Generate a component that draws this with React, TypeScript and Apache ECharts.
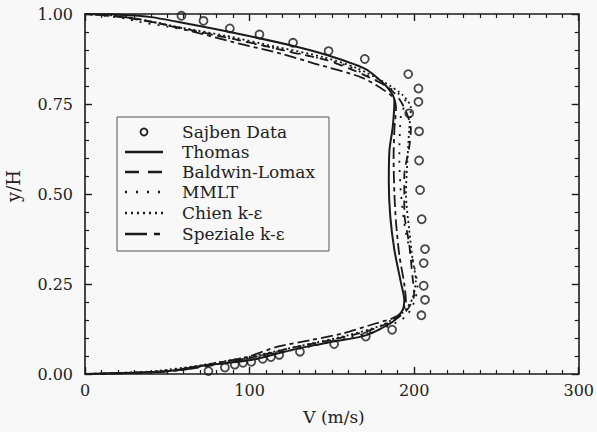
import React, { useEffect, useRef } from "react";
import * as echarts from "echarts";

const xTicks = [0, 100, 200, 300];
const yTicks = [0, 0.25, 0.5, 0.75, 1.0];

const legendNames = ["Sajben Data", "Thomas", "Baldwin-Lomax", "MMLT", "Chien k-ε", "Speziale k-ε"];

const sajbenData = [
  [58.6, 0.995], [72, 0.981], [88, 0.96], [106, 0.943], [126.4, 0.92], [148, 0.897], [170, 0.875],
  [196.4, 0.833], [202.6, 0.793], [202.6, 0.756], [197, 0.724], [203, 0.674], [203, 0.593],
  [203.6, 0.511], [204.6, 0.43], [206.6, 0.347], [205.8, 0.308], [205.8, 0.245], [206.6, 0.206],
  [204.4, 0.163], [186.6, 0.123], [170.6, 0.104], [151.4, 0.083], [130.6, 0.062], [118, 0.053],
  [113, 0.047], [108, 0.042], [101, 0.034], [96, 0.031], [91, 0.026], [85, 0.018], [75, 0.008],
];

const thomasData = [
  [0, 0], [20, 0.003], [49, 0.007], [73, 0.024], [101, 0.039], [117, 0.057], [135, 0.076],
  [151, 0.09], [171, 0.108], [187, 0.145], [193, 0.178], [194, 0.206], [192, 0.253], [188, 0.344],
  [185.5, 0.437], [184.6, 0.531], [185, 0.622], [187, 0.687], [188, 0.76], [183, 0.8], [170, 0.848],
  [147, 0.886], [126, 0.912], [88, 0.95], [60, 0.975], [39, 0.992], [15, 0.999], [0, 1.0],
];

const baldwinData = [
  [0, 0], [30, 0.003], [60, 0.012], [85, 0.03], [105, 0.05], [125, 0.072], [150, 0.095],
  [172, 0.12], [188, 0.15], [196, 0.18], [200, 0.22], [199, 0.27], [197, 0.36], [194, 0.45],
  [194, 0.55], [197, 0.63], [198, 0.68], [195, 0.73], [190, 0.77], [183, 0.8], [165, 0.84],
  [147, 0.872], [129, 0.89], [101, 0.92], [70, 0.95], [40, 0.978], [15, 0.996], [0, 1.0],
];

const mmltData = [
  [0, 0], [40, 0.006], [70, 0.022], [100, 0.045], [130, 0.07], [160, 0.1], [183, 0.13],
  [195, 0.16], [200, 0.2], [202, 0.24], [200, 0.3], [195, 0.39], [192, 0.5], [191, 0.6],
  [192, 0.72], [195, 0.755], [190, 0.78], [179, 0.81], [160, 0.855], [140, 0.88], [110, 0.91],
  [80, 0.94], [50, 0.965], [33, 0.978], [25, 0.987], [12, 0.995], [0, 1.0],
];

const chienData = [
  [0, 0], [40, 0.007], [70, 0.024], [100, 0.048], [130, 0.077], [160, 0.108], [180, 0.135],
  [193, 0.17], [199, 0.21], [201, 0.26], [199, 0.32], [197, 0.4], [195, 0.5], [196, 0.6],
  [197, 0.68], [198, 0.74], [193, 0.775], [182, 0.81], [165, 0.85], [145, 0.88], [115, 0.91],
  [85, 0.94], [55, 0.965], [43, 0.977], [20, 0.995], [0, 1.0],
];

const spezialeData = [
  [0, 0], [30, 0.003], [59, 0.011], [79, 0.03], [99, 0.048], [117, 0.076], [137, 0.094],
  [157, 0.113], [177, 0.141], [187, 0.155], [192, 0.17], [195, 0.2], [194, 0.25], [191, 0.33],
  [189, 0.42], [188, 0.5], [187.5, 0.6], [188, 0.68], [189, 0.74], [187, 0.77], [169, 0.822],
  [139, 0.863], [119, 0.89], [89, 0.923], [65, 0.952], [30, 0.988], [0, 1.0],
];

const INK = "#1a1a1a";
const FONT = "DejaVu Serif";

export default function App() {
  const ref = useRef<HTMLDivElement>(null);

  useEffect(() => {
    if (!ref.current) return;
    const chart = echarts.init(ref.current, null, { renderer: "svg" });

    const axisCommon = {
      type: "value" as const,
      axisLine: { show: true, onZero: false, lineStyle: { color: INK, width: 1.6 } },
      axisTick: { show: true, inside: true, length: 7, lineStyle: { color: INK, width: 1.4 } },
      minorTick: { show: true, length: 4, lineStyle: { color: INK, width: 1.2 } },
      splitLine: { show: false },
      minorSplitLine: { show: false },
    };

    const xAxisBase = {
      ...axisCommon,
      min: xTicks[0],
      max: xTicks[xTicks.length - 1],
      interval: 100,
      minorTick: { ...axisCommon.minorTick, splitNumber: 10 },
    };
    const yAxisBase = {
      ...axisCommon,
      min: yTicks[0],
      max: yTicks[yTicks.length - 1],
      interval: 0.25,
      minorTick: { ...axisCommon.minorTick, splitNumber: 5 },
    };

    const lineSeries = (name: string, data: number[][], type: any, width = 1.8) => ({
      name,
      type: "line",
      data,
      showSymbol: false,
      symbol: "none",
      smooth: 0.25,
      lineStyle: { color: INK, width, type },
      z: 3,
    });

    const legendX0 = 125;
    const legendX1 = 163;
    const textX = 182;
    const rowsY = [132, 152, 172, 192, 213, 234];
    const dashes: any[] = [null, null, [14, 9], [2, 9], [2, 4], [22, 7, 6, 7]];

    const legendGraphics: any[] = [
      {
        type: "rect",
        shape: { x: 117, y: 117, width: 212, height: 134 },
        style: { fill: "#f8f8f8", stroke: "#555", lineWidth: 1 },
        z: 10,
      },
      {
        type: "circle",
        shape: { cx: (legendX0 + legendX1) / 2, cy: rowsY[0], r: 3.5 },
        style: { fill: "none", stroke: INK, lineWidth: 1.8 },
        z: 11,
      },
    ];
    for (let i = 1; i < legendNames.length; i++) {
      legendGraphics.push({
        type: "line",
        shape: { x1: legendX0, y1: rowsY[i], x2: legendX1, y2: rowsY[i] },
        style: { stroke: INK, lineWidth: 2.4, lineDash: dashes[i] || undefined },
        z: 11,
      });
    }
    legendNames.forEach((n, i) => {
      legendGraphics.push({
        type: "text",
        x: textX,
        y: rowsY[i],
        style: {
          text: n,
          font: `17px ${FONT}`,
          fill: "#222",
          verticalAlign: "middle",
          align: "left",
        },
        z: 11,
      });
    });
    legendGraphics.push({
      type: "text",
      x: 13,
      y: 186,
      rotation: Math.PI / 2,
      style: {
        text: "y/H",
        font: `18px ${FONT}`,
        fill: "#222",
        align: "center",
        verticalAlign: "middle",
      },
    });
    legendGraphics.push({
      type: "text",
      x: 334,
      y: 417,
      style: {
        text: "V (m/s)",
        font: `17px ${FONT}`,
        fill: "#222",
        align: "center",
        verticalAlign: "middle",
      },
    });

    chart.setOption({
      animation: false,
      backgroundColor: "#f8f8f8",
      grid: { left: 85, right: 12, top: 14, bottom: 58, containLabel: false },
      xAxis: [
        {
          ...xAxisBase,
          position: "bottom",
          axisLabel: { show: true, margin: 8, fontSize: 16, fontFamily: FONT, color: "#222" },
        },
        {
          ...xAxisBase,
          position: "top",
          axisLabel: { show: false },
        },
      ],
      yAxis: [
        {
          ...yAxisBase,
          position: "left",
          axisLabel: {
            show: true,
            margin: 12,
            fontSize: 16,
            fontFamily: FONT,
            color: "#222",
            formatter: (v: number) => v.toFixed(2),
          },
        },
        {
          ...yAxisBase,
          position: "right",
          axisLabel: { show: false },
        },
      ],
      series: [
        {
          name: legendNames[0],
          type: "scatter",
          data: sajbenData,
          symbol: "circle",
          symbolSize: 8,
          itemStyle: { color: "rgba(0,0,0,0)", borderColor: INK, borderWidth: 1.8 },
          z: 4,
        },
        lineSeries(legendNames[1], thomasData, "solid", 2),
        lineSeries(legendNames[2], baldwinData, [9, 6]),
        lineSeries(legendNames[3], mmltData, [2, 7]),
        lineSeries(legendNames[4], chienData, [2, 3]),
        lineSeries(legendNames[5], spezialeData, [12, 4, 4, 4]),
      ],
      graphic: legendGraphics,
    });

    return () => chart.dispose();
  }, []);

  return (
    <div
      ref={ref}
      style={{ position: "absolute", left: 0, top: 0, width: 597, height: 432, background: "#f8f8f8" }}
    />
  );
}
